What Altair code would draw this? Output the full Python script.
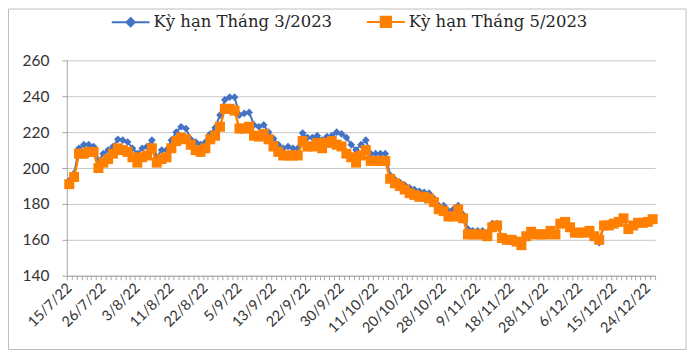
import json
import altair as alt
import pandas as pd

series_names = ["Kỳ hạn Tháng 3/2023", "Kỳ hạn Tháng 5/2023"]
series_colors = ["#4472C4", "#FF7F00"]

tick_labels = ["15/7/22", "26/7/22", "3/8/22", "11/8/22", "22/8/22", "5/9/22",
               "13/9/22", "22/9/22", "30/9/22", "11/10/22", "20/10/22", "28/10/22",
               "9/11/22", "18/11/22", "28/11/22", "6/12/22", "15/12/22", "24/12/22"]
label_every = 7
y_ticks = [140, 160, 180, 200, 220, 240, 260]

ky_han_3 = [193, 197, 211, 213, 213, 212, 204, 208, 210, 212,
            216, 215.5, 214.5, 211, 208, 211, 212, 215.5, 206, 210,
            210, 215.5, 220, 223, 222, 216, 214.5, 213, 214.5, 219,
            222.5, 229.5, 238, 239.5, 239.5, 229.5, 230.5, 231, 224, 223,
            224, 220, 216.5, 213, 211, 212, 211, 211, 219.5, 217,
            217, 218, 215.5, 217.5, 218, 220, 219, 217, 213, 210,
            213, 215.5, 208, 208, 208, 208, 196, 193.5, 192, 190.5,
            189, 188, 187, 186.5, 186, 183, 179, 179, 176, 177,
            179, 174, 166, 165, 165, 165, 164, 169, 169, 161.5,
            159.5, 160, 158.5, 156.5, 162, 164.5, 163, 163, 163.5, 165.5,
            163.5, 169.5, 170.5, 167, 164.5, 164, 164, 165, 161.5, 158.5,
            168, 168.5, 169.5, 170, 172, 166, 168, 169.5, 169.5, 170,
            171.5]

ky_han_5 = [191, 195, 208, 208, 209, 209, 200, 203, 205, 208,
            211, 210, 209, 206, 203, 206, 207, 211, 203, 205,
            206, 211, 215, 217, 216, 213, 210, 209, 211, 216,
            218, 223, 233, 233, 232, 222, 222, 223, 218, 217.5,
            219, 216, 212, 209, 207, 207, 207, 207, 215, 212,
            212, 214, 211, 214, 215, 213, 212, 208, 206, 203,
            207, 210, 204, 204, 204, 204, 194, 191.5, 190, 188,
            186, 185, 184, 184, 183, 181, 177, 176, 173, 173,
            177, 172, 163, 163, 163, 163, 162, 167, 168, 161,
            160, 160, 159, 157, 162, 164.5, 163, 163, 163, 165,
            163, 169, 170, 167, 164, 164, 164, 165, 162, 160,
            168, 168, 169, 170, 172, 166, 168, 169.5, 169.5, 170,
            171.5]

n = len(ky_han_3)
rows = []
for name, vals in zip(series_names, [ky_han_3, ky_han_5]):
    for i, v in enumerate(vals):
        rows.append({"idx": i, "series": name, "value": v})
df = pd.DataFrame(rows)

plot_w = 590
plot_h = 216
half_cat = plot_w / n / 2

label_expr = (
    f"(datum.value + 0.5) % {label_every} == 0 ? "
    f"{json.dumps(tick_labels)}[(datum.value + 0.5) / {label_every}] : ''"
)

x_enc = alt.X(
    "idx:Q",
    scale=alt.Scale(domain=[-0.5, n - 0.5], nice=False, zero=False),
    axis=alt.Axis(
        values=[k - 0.5 for k in range(n + 1)],
        labelExpr=label_expr,
        labelAngle=-45,
        labelAlign="right",
        labelBaseline="middle",
        labelOffset=half_cat,
        labelOverlap=False,
        labelFlush=False,
        labelBound=False,
        labelPadding=6,
        labelFont="Lato",
        labelFontSize=14.5,
        tickSize=4,
        grid=False,
        title=None,
    ),
)
y_enc = alt.Y(
    "value:Q",
    scale=alt.Scale(domain=[140, 260], nice=False, zero=False),
    axis=alt.Axis(
        values=y_ticks,
        grid=True,
        tickSize=5,
        labelPadding=13,
        labelFont="Lato",
        labelFontSize=15.5,
        title=None,
    ),
)

base = alt.Chart(df)

blue_line = base.transform_filter(alt.datum.series == series_names[0]).mark_line(
    color=series_colors[0], strokeWidth=2).encode(x=x_enc, y=y_enc)
blue_pts = base.transform_filter(alt.datum.series == series_names[0]).mark_point(
    shape="diamond", filled=True, size=60, opacity=1, color=series_colors[0]).encode(x=x_enc, y=y_enc)
orange_line = base.transform_filter(alt.datum.series == series_names[1]).mark_line(
    color=series_colors[1], strokeWidth=2.5).encode(x=x_enc, y=y_enc)
orange_pts = base.transform_filter(alt.datum.series == series_names[1]).mark_square(
    size=100, opacity=1, color=series_colors[1]).encode(x=x_enc, y=y_enc)

diamond_path = "M-1,0H1M0,-0.22L0.22,0L0,0.22L-0.22,0Z"
square_path = "M-1,0H1M-0.27,-0.27H0.27V0.27H-0.27Z"

legend_props = dict(
    orient="none", legendX=44, legendY=-59, direction="horizontal", title=None,
    symbolSize=1444, symbolStrokeWidth=2, symbolOpacity=1,
    labelFont="DejaVu Serif", labelFontSize=16.5, labelColor="#262626",
    labelLimit=0, labelOffset=3, columnPadding=30, padding=0,
)
legend_layer = base.mark_point(filled=True, opacity=0).encode(
    x=x_enc, y=y_enc,
    color=alt.Color("series:N", scale=alt.Scale(domain=series_names, range=series_colors),
                    legend=alt.Legend(**legend_props)),
    stroke=alt.Stroke("series:N", scale=alt.Scale(domain=series_names, range=series_colors),
                      legend=alt.Legend(**legend_props)),
    shape=alt.Shape("series:N", scale=alt.Scale(domain=series_names, range=[diamond_path, square_path]),
                    legend=alt.Legend(**legend_props)),
)

frame = alt.Chart(pd.DataFrame({"f": [0]})).mark_rect(
    fillOpacity=0, stroke="#bfbfbf", strokeWidth=1).encode(
    x=alt.value(-58.5), x2=alt.value(621), y=alt.value(-51.5), y2=alt.value(290))

chart = alt.layer(frame, legend_layer, blue_line, blue_pts, orange_line, orange_pts).properties(
    width=plot_w, height=plot_h,
    padding={"left": 59, "top": 52, "right": 32, "bottom": 75},
    autosize=alt.AutoSizeParams(type="none"),
).configure_view(stroke=None).configure_axis(
    domainColor="#a6a6a6", tickColor="#a6a6a6", gridColor="#c8c8c8",
    labelColor="#333333", domainWidth=1, gridWidth=1,
)

chart.save("out.html", embed_options={"renderer": "svg", "actions": False})
